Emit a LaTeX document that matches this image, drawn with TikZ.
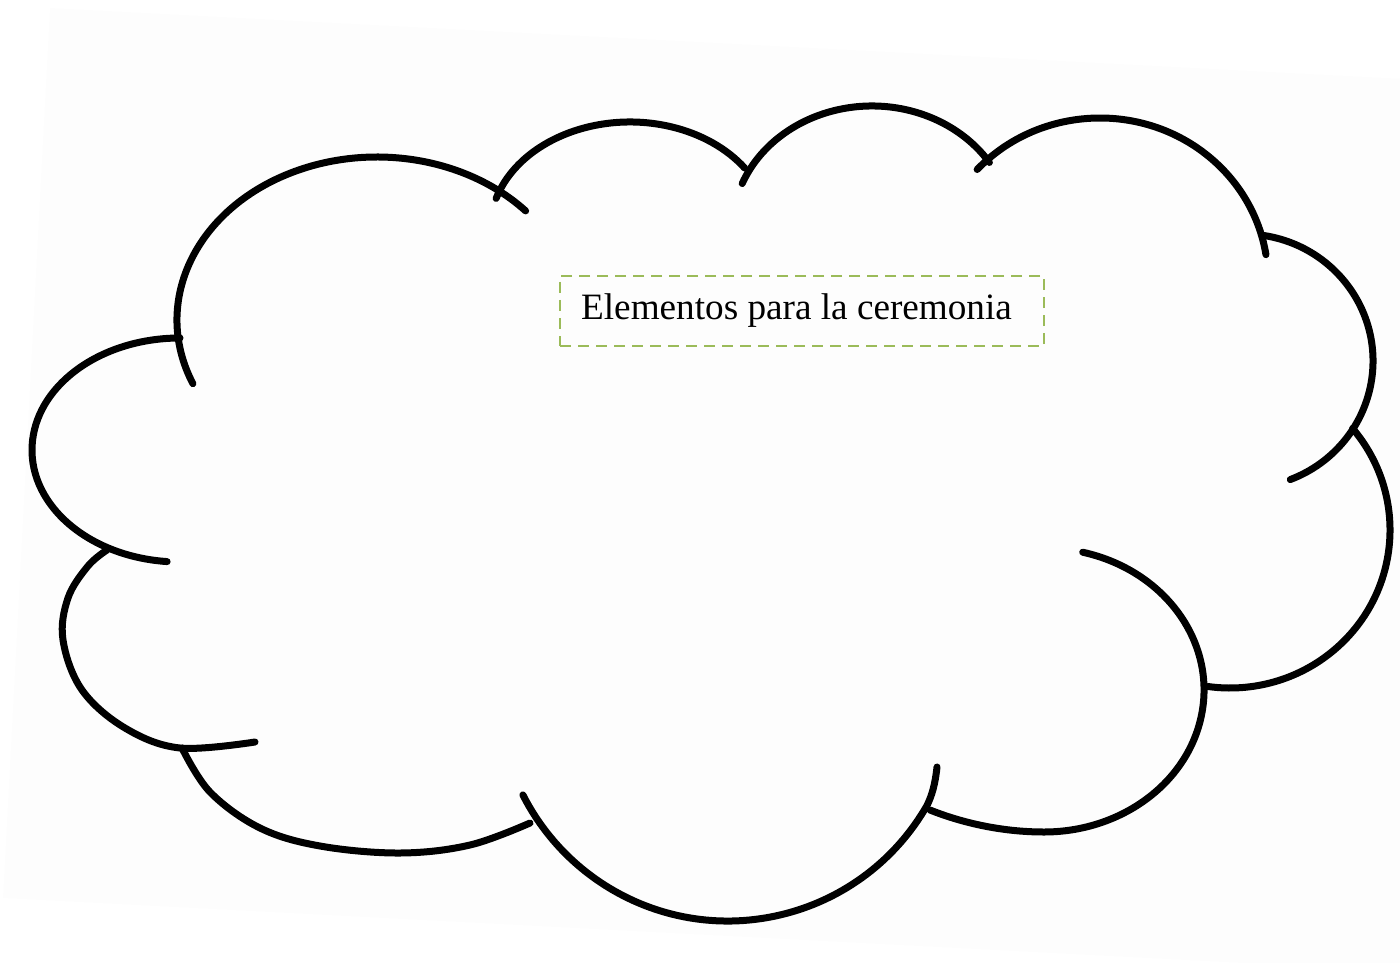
\documentclass[tikz,border=0pt]{standalone}
\usepackage{fontspec}
\setmainfont{Liberation Serif}
\definecolor{boxgreen}{HTML}{9BBB59}
\tikzset{
	cloudline/.style={line width=3.5pt, line cap=round, line join=round},
	titlebox/.style={draw=boxgreen, line width=1.3pt, dash pattern=on 5.5pt off 3.5pt, minimum width=242pt, minimum height=35pt, inner sep=0pt, font=\fontsize{18.6}{22}\selectfont}
}
\begin{document}
\begin{tikzpicture}[x=0.5pt, y=-0.5pt]
			\useasboundingbox (0,0) rectangle (1400,962);
			\fill[black!0.8] (50,8)--(1500,84)--(1453,974)--(3,898)--cycle;
			% lobes drawn as arcs of ellipses
			\draw[cloudline] (377,320) ++(157:200 and 163) arc[start angle=157, end angle=318, x radius=200, y radius=163];
			\draw[cloudline] (630,230) ++(197:140 and 108) arc[start angle=197, end angle=325, x radius=140, y radius=108];
			\draw[cloudline] (872,230) ++(202:140 and 124) arc[start angle=202, end angle=327, x radius=140, y radius=124];
			\draw[cloudline] (1100,280) ++(223:168 and 162) arc[start angle=223, end angle=351, x radius=168, y radius=162];
			\draw[cloudline] (1244,361) ++(-82:129 and 127) arc[start angle=-82, end angle=69, x radius=129, y radius=127];
			\draw[cloudline] (1230,530) ++(-40:160 and 158) arc[start angle=-40, end angle=98, x radius=160, y radius=158];
			\draw[cloudline] (1044,690) ++(-76:160 and 142) arc[start angle=-76, end angle=90, x radius=160, y radius=142] .. controls (1000,832) and (960,822) .. (930,810);
			\draw[cloudline] (937,767) .. controls (935,785) and (932,795) .. (927,805.5) arc[start angle=30, end angle=153, x radius=230, y radius=231];
			\draw[cloudline] plot[smooth, tension=0.6] coordinates{(530,823) (470,845) (400,853) (320,846) (260,828) (210,792) (182,748)};
			\draw[cloudline] plot[smooth, tension=0.6] coordinates{(255,742) (180,748) (125,728) (82,690) (63,640) (68,598) (88,566) (107,550)};
			\draw[cloudline] (180,450) ++(95:148 and 112) arc[start angle=95, end angle=270, x radius=148, y radius=112];
			\node[titlebox] (title) at (802,311) {Elementos para la ceremonia\hspace*{5.5pt}};
\end{tikzpicture}
\end{document}
